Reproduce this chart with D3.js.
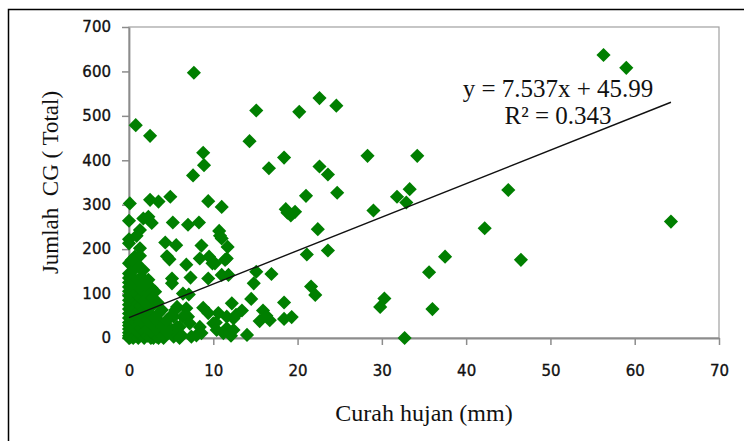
<!DOCTYPE html>
<html>
<head>
<meta charset="utf-8">
<script src="https://cdn.jsdelivr.net/npm/d3@7"></script>
<style>
  body { margin: 0; background: #fff; }
</style>
</head>
<body>
<div id="chart"></div>
<script>
const WIDTH = 744;
const HEIGHT = 441;

// plot frame (pixels)
const LEFT = 129, RIGHT = 719, TOP = 27, BOTTOM = 338;

const X_TICKS = [0, 10, 20, 30, 40, 50, 60, 70];
const Y_TICKS = [0, 100, 200, 300, 400, 500, 600, 700];

// regression shown on the chart
const SLOPE = 7.537;
const INTERCEPT = 45.99;
const EQ_TEXT = "y = 7.537x + 45.99";
const R2_TEXT = "R² = 0.343";

// curah hujan (mm)
const rain = [
  56.3, 59.0, 64.3, 22.6, 24.6, 20.2, 18.4, 28.3, 34.2, 22.6, 23.6, 21.0, 24.7, 31.8, 33.3, 32.9, 45.0,
  18.8, 19.7, 18.6, 19.2, 29.0, 22.4, 42.2, 21.1, 23.6, 37.5, 46.5, 35.6, 18.4, 21.6, 22.1, 18.4, 19.3,
  29.8, 30.3, 36.0, 32.7,
  15.1, 14.3, 16.6, 15.1, 14.8, 16.9, 14.5, 14.0, 15.9, 16.3, 16.7, 15.5,
  7.7, 8.8, 8.9, 7.6, 11.0, 9.4, 10.7, 10.8, 11.0, 11.7, 11.6, 11.0, 9.9, 9.5, 9.4, 8.3, 7.0, 8.6, 8.4,
  6.8, 7.3, 7.1, 8.8, 10.6, 10.3, 12.2, 11.6, 12.1, 11.2, 12.7, 13.4, 12.4, 10.2, 11.4, 11.8, 10.0, 10.4,
  11.6, 12.4, 9.4, 8.4, 8.0, 8.6, 7.4, 6.8, 6.4, 7.0, 7.2, 6.4,
  0.8, 2.5, 0.1, 2.5, 3.5, 4.9, 0.0, 1.7, 2.3, 2.7, 1.3, 0.9, 0.0, 0.0, 5.2, 4.3, 5.6, 1.3, 0.9, 0.0,
  4.8, 4.5, 1.7, 1.5, 2.3, 5.1, 5.1, 2.7, 3.1, 1.3, 0.7, 5.7, 5.3, 6.0, 5.1, 6.2, 5.7, 3.9, 3.5, 4.3,
  3.7, 4.5, 3.3, 5.5, 4.9, 5.7, 5.3, 6.0, 4.5, 2.9, 4.1,
  0.0, 0.0, 0.0, 0.0, 0.0, 0.0, 0.0, 0.0, 0.0, 0.0, 0.0, 0.0, 0.0, 0.0, 0.0, 0.0, 0.0,
  0.2, 0.2, 0.2, 0.2, 0.2, 0.2, 0.2, 0.2, 0.2,
  0.5, 0.5, 0.5, 0.5, 0.5, 0.5, 0.5, 0.5, 0.5,
  0.8, 0.8, 0.8, 0.8, 0.8, 0.8, 0.8, 0.8,
  1.1, 1.1, 1.1, 1.1, 1.1, 1.1, 1.1,
  1.4, 1.4, 1.4, 1.4, 1.4, 1.4, 1.4,
  1.8, 1.8, 1.8, 1.8, 1.8, 1.8,
  2.2, 2.2, 2.2, 2.2, 2.2, 2.2,
  2.6, 2.6, 2.6, 2.6, 2.6,
  3.0, 3.0, 3.0, 3.5, 3.5, 3.5, 3.5, 4.0, 4.0, 4.5, 4.5,
  2.8, 3.4, 1.0, 0.4, 2.0, 1.2, 0.3
];

// jumlah CG (total)
const cgTotal = [
  637, 608, 262, 540, 523, 509, 406, 410, 410, 386, 368, 320, 327, 318, 335, 305, 333,
  282, 284, 290, 276, 287, 245, 247, 188, 197, 183, 176, 148, 80, 116, 97, 43, 47,
  70, 89, 65, 0,
  512, 443, 382, 149, 123, 144, 88, 7, 62, 50, 40, 38,
  597, 417, 389, 366, 295, 308, 241, 230, 224, 205, 179, 142, 168, 183, 134, 260, 255, 208, 179,
  165, 136, 98, 68, 56, 35, 78, 22, 5, 11, 52, 62, 18, 168, 176, 142, 33, 18,
  48, 44, 56, 25, 6, 11, 3, 67, 48, 48, 33, 100,
  479, 455, 303, 311, 307, 318, 264, 269, 273, 259, 243, 230, 222, 213, 260, 215, 209, 185, 168, 168,
  177, 184, 153, 138, 131, 134, 123, 112, 104, 202, 183, 70, 48, 25, 18, 7, 11, 63, 40, 33,
  14, 11, 3, 63, 48, 25, 3, 0, 22, 0, 0,
  0, 5, 12, 20, 28, 35, 45, 55, 65, 75, 85, 95, 105, 115, 125, 135, 145,
  2, 15, 30, 48, 62, 80, 98, 118, 140,
  0, 10, 25, 40, 55, 70, 88, 105, 125,
  5, 18, 35, 50, 68, 82, 100, 115,
  0, 12, 28, 45, 60, 78, 95,
  8, 22, 38, 55, 72, 90, 110,
  0, 15, 30, 48, 65, 85,
  5, 20, 40, 58, 75, 100,
  0, 12, 30, 50, 70,
  8, 25, 45, 0, 15, 35, 55, 5, 28, 12, 40,
  90, 80, 130, 150, 120, 160, 175
];

const svg = d3.select("#chart")
  .append("svg")
  .attr("width", WIDTH)
  .attr("height", HEIGHT);

svg.append("rect")
  .attr("width", WIDTH)
  .attr("height", HEIGHT)
  .attr("fill", "#fff");

// outer border (top and left visible)
svg.append("path")
  .attr("d", "M8.5,441 V9.5 H744")
  .attr("fill", "none")
  .attr("stroke", "#000")
  .attr("stroke-width", 1.5);

const xScale = d3.scaleLinear().domain([0, 70]).range([LEFT, RIGHT]);
const yScale = d3.scaleLinear().domain([0, 700]).range([BOTTOM, TOP]);

// plot frame
svg.append("rect")
  .attr("x", LEFT)
  .attr("y", TOP)
  .attr("width", RIGHT - LEFT)
  .attr("height", BOTTOM - TOP)
  .attr("fill", "none")
  .attr("stroke", "#a0a0a0")
  .attr("stroke-width", 1.2);

// X AXIS
const xAxis = svg.append("g")
  .attr("transform", "translate(0," + BOTTOM + ")")
  .call(d3.axisBottom(xScale).tickValues(X_TICKS).tickSize(7).tickPadding(20).tickSizeOuter(0));

// Y AXIS
const yAxis = svg.append("g")
  .attr("transform", "translate(" + LEFT + ",0)")
  .call(d3.axisLeft(yScale).tickValues(Y_TICKS).tickSize(7).tickPadding(11).tickSizeOuter(0));

[xAxis, yAxis].forEach(ax => {
  ax.select(".domain").attr("stroke", "#8c8c8c").attr("stroke-width", 1.8);
  ax.selectAll(".tick line").attr("stroke", "#8c8c8c").attr("stroke-width", 1.5);
  ax.selectAll(".tick text")
    .style("font-family", "DejaVu Sans")
    .style("font-size", "15px")
    .attr("fill", "#111")
    .attr("stroke", "#111")
    .attr("stroke-width", 0.35);
});

// scatter points
const diamond = d3.symbol().type(d3.symbolSquare).size(100);
svg.append("g")
  .selectAll("path")
  .data(d3.range(rain.length))
  .join("path")
  .attr("d", diamond)
  .attr("transform", i => "translate(" + xScale(rain[i]) + "," + yScale(cgTotal[i]) + ") rotate(45)")
  .attr("fill", "#007f00");

// trendline
const xMax = d3.max(rain);
svg.append("line")
  .attr("x1", xScale(0))
  .attr("y1", yScale(INTERCEPT))
  .attr("x2", xScale(xMax))
  .attr("y2", yScale(SLOPE * xMax + INTERCEPT))
  .attr("stroke", "#111")
  .attr("stroke-width", 1.4);

// equation
svg.append("text")
  .attr("x", 558)
  .attr("y", 97)
  .attr("text-anchor", "middle")
  .style("font-family", "Liberation Serif")
  .style("font-size", "25px")
  .attr("fill", "#111")
  .text(EQ_TEXT);

svg.append("text")
  .attr("x", 558)
  .attr("y", 124)
  .attr("text-anchor", "middle")
  .style("font-family", "Liberation Serif")
  .style("font-size", "25px")
  .attr("fill", "#111")
  .text(R2_TEXT);

// axis titles
svg.append("text")
  .attr("x", (LEFT + RIGHT) / 2)
  .attr("y", 421)
  .attr("text-anchor", "middle")
  .style("font-family", "Liberation Serif")
  .style("font-size", "24px")
  .attr("fill", "#111")
  .text("Curah hujan (mm)");

svg.append("text")
  .attr("transform", "translate(58," + ((TOP + BOTTOM) / 2) + ") rotate(-90)")
  .attr("text-anchor", "middle")
  .style("font-family", "Liberation Serif")
  .style("font-size", "23px")
  .style("white-space", "pre")
  .attr("fill", "#111")
  .text("Jumlah  CG ( Total)");
</script>
</body>
</html>
